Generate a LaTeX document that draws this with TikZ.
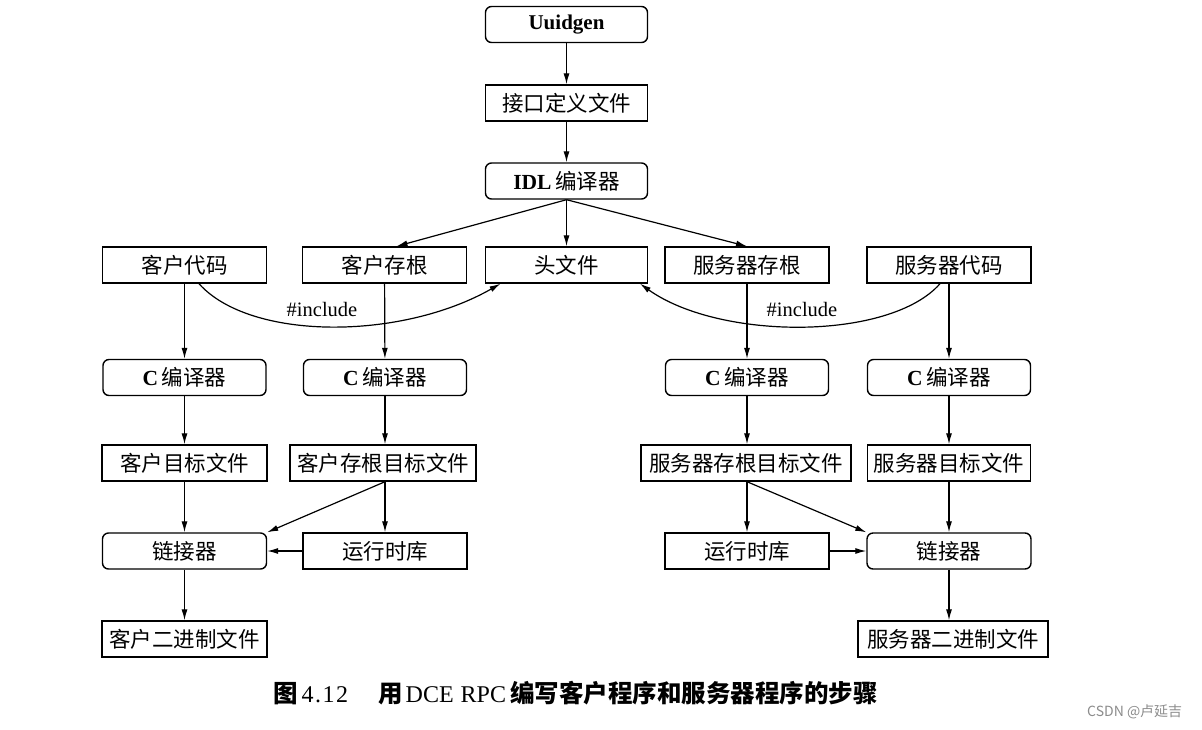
\documentclass[tikz,border=0pt]{standalone}
\usepackage{fontspec}
\setmainfont{Liberation Serif}
\newfontfamily\cjk{Noto Sans CJK SC}
\newcommand\zh[1]{{\cjk #1}}
\usetikzlibrary{arrows.meta}
\begin{document}
\begin{tikzpicture}[x=1pt,y=-1pt,
  box/.style={draw, line width=1.4pt, minimum height=36pt, inner sep=0pt, font=\fontsize{21.5}{24}\selectfont},
  rbox/.style={box, rounded corners=6pt},
  arr/.style={line width=1.2pt, -{Latex[length=11pt,width=6pt]}},
  lbl/.style={inner sep=0pt, font=\fontsize{20.5}{22}\selectfont}]
\useasboundingbox[fill=white] (0,0) rectangle (1202,729);

% top
\node[rbox, minimum width=162pt] (uuid) at (566.5,24.5) {\fontsize{21}{24}\selectfont\textbf{Uuidgen}};
\node[box, minimum width=162pt] (iface) at (566.5,103) {\zh{接口定义文件}};
\node[rbox, minimum width=162pt] (idl) at (566.5,181) {\textbf{IDL}\,\zh{编译器}};

% row 4
\node[box, minimum width=164pt] (ccode) at (184.5,265) {\zh{客户代码}};
\node[box, minimum width=164pt] (cstub) at (384.5,265) {\zh{客户存根}};
\node[box, minimum width=162pt] (hdr) at (566.5,265) {\zh{头文件}};
\node[box, minimum width=164pt] (sstub) at (747,265) {\zh{服务器存根}};
\node[box, minimum width=164pt] (scode) at (949,265) {\zh{服务器代码}};

% row 5
\node[rbox, minimum width=163pt] (cc1) at (184.5,377.5) {\textbf{C}\,\zh{编译器}};
\node[rbox, minimum width=163pt] (cc2) at (385,377.5) {\textbf{C}\,\zh{编译器}};
\node[rbox, minimum width=163pt] (cc3) at (747,377.5) {\textbf{C}\,\zh{编译器}};
\node[rbox, minimum width=163pt] (cc4) at (949,377.5) {\textbf{C}\,\zh{编译器}};

% row 6
\node[box, minimum width=165pt] (cobj) at (184.5,463) {\zh{客户目标文件}};
\node[box, minimum width=186pt] (csobj) at (383,463) {\zh{客户存根目标文件}};
\node[box, minimum width=210pt] (ssobj) at (746,463) {\zh{服务器存根目标文件}};
\node[box, minimum width=163pt] (sobj) at (949,463) {\zh{服务器目标文件}};

% row 7
\node[rbox, minimum width=164pt] (clink) at (184.5,551) {\zh{链接器}};
\node[box, minimum width=164pt] (crt) at (385,551) {\zh{运行时库}};
\node[box, minimum width=164pt] (srt) at (747,551) {\zh{运行时库}};
\node[rbox, minimum width=164pt] (slink) at (949,551) {\zh{链接器}};

% row 8
\node[box, minimum width=165pt] (cbin) at (184.5,639) {\zh{客户二进制文件}};
\node[box, minimum width=190pt] (sbin) at (953,639) {\zh{服务器二进制文件}};

% top chain
\draw[arr] (uuid) -- (iface);
\draw[arr] (iface) -- (idl);
\draw[arr] (idl.south) -- (hdr.north);
\draw[arr] (idl.south) -- ([xshift=12pt]cstub.north);
\draw[arr] (idl.south) -- (sstub.north);

% compile
\draw[arr] (ccode) -- (cc1);
\draw[arr] (cstub) -- (cc2);
\draw[arr] (sstub) -- (cc3);
\draw[arr] (scode) -- (cc4);
\draw[arr] (cc1) -- (cobj);
\draw[arr] (cc2.south) -- (cc2.south |- csobj.north);
\draw[arr] (cc3.south) -- (cc3.south |- ssobj.north);
\draw[arr] (cc4) -- (sobj);

% link client
\draw[arr] (cobj) -- (clink);
\draw[arr] (csobj.south -| crt.north) -- (crt.north);
\draw[arr] (csobj.south -| crt.north) -- (clink.north east);
\draw[arr] (crt) -- (clink);
\draw[arr] (clink.south) -- (clink.south |- cbin.north);

% link server
\draw[arr] (ssobj.south -| srt.north) -- (srt.north);
\draw[arr] (ssobj.south -| srt.north) -- (slink.north west);
\draw[arr] (srt) -- (slink);
\draw[arr] (sobj) -- (slink);
\draw[arr] (slink.south) -- (slink.south |- sbin.north);

% includes
\draw[arr] ([xshift=14.5pt]ccode.south) .. controls +(51,57) and +(-100,57) .. ([xshift=-66pt]hdr.south);
\draw[arr] ([xshift=-9pt]scode.south) .. controls +(-50,57) and +(80,57) .. ([xshift=73.5pt]hdr.south);
\node[lbl] (inc1) at (322,309) {\#include};
\node[lbl] (inc2) at (802,309) {\#include};

% caption
\node[anchor=west, inner sep=0pt, font=\fontsize{24}{26}\selectfont] (cap) at (273,693)
  {{\cjk\fontsize{24.5}{26}\selectfont\bfseries 图}\hspace{4pt}4\kern1.5pt.\kern1.5pt1\kern1.5pt2\hspace{30pt}{\cjk\fontsize{24.5}{26}\selectfont\bfseries 用}\hspace{3pt}DCE\hspace{7pt}RPC\hspace{4pt}{\cjk\fontsize{24.5}{26}\selectfont\bfseries 编写客户程序和服务器程序的步骤}};

% watermark
\node[anchor=west, inner sep=0pt, text=black!45, font=\cjk\fontsize{14}{16}\selectfont] (wm) at (1087,712) {CSDN @卢延吉};
\end{tikzpicture}
\end{document}
